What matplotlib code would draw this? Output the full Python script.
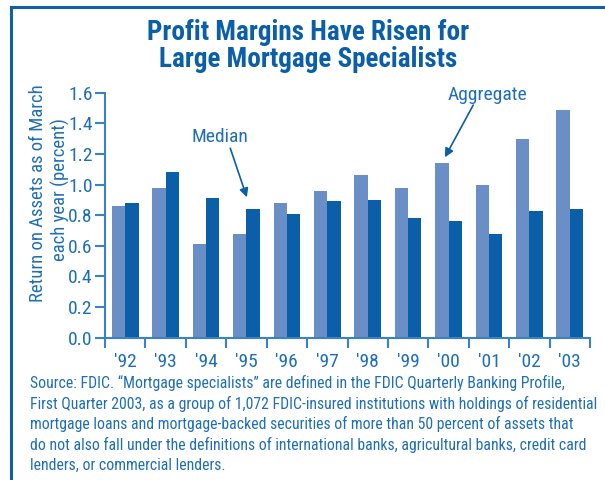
import matplotlib
matplotlib.use("Agg")
import matplotlib.pyplot as plt
import numpy as np
from matplotlib.lines import Line2D

plt.rcParams['font.family'] = ['Roboto Condensed', 'DejaVu Sans']

years = ["'92", "'93", "'94", "'95", "'96", "'97", "'98", "'99", "'00", "'01", "'02", "'03"]
aggregate = [0.86, 0.98, 0.61, 0.68, 0.88, 0.96, 1.06, 0.98, 1.14, 1.00, 1.30, 1.49]
median = [0.88, 1.08, 0.91, 0.84, 0.81, 0.89, 0.90, 0.78, 0.76, 0.68, 0.83, 0.84]
yticks = [0.0, 0.2, 0.4, 0.6, 0.8, 1.0, 1.2, 1.4, 1.6]

light = '#6a8ec6'
dark = '#0a5fa8'
axis_c = '#3a82c4'
text_c = '#1f6fb6'
title_c = '#0a5fa8'

fig = plt.figure(figsize=(6.05, 4.8), dpi=100)
ax = fig.add_axes([105/605, 1-337.7/480, 485/605, 245/480])

x = np.arange(len(years))
w = 0.33
ax.bar(x - w/2, aggregate, width=w, color=light, linewidth=0)
ax.bar(x + w/2, median, width=w, color=dark, linewidth=0)

ax.set_xlim(-0.5, 11.5)
ax.set_ylim(0, 1.6)
ax.set_yticks(yticks)
ax.set_yticklabels([f"{v:.1f}" for v in yticks])
ax.set_xticks(np.arange(-0.5, 12, 1))
ax.set_xticklabels([])
ax.set_xticks(x, minor=True)
ax.set_xticklabels(years, minor=True)
ax.tick_params(axis='x', which='minor', length=0, pad=11, labelsize=14, labelcolor=text_c)
ax.tick_params(axis='x', which='major', length=7, width=1.5, color=axis_c, direction='out')
ax.tick_params(axis='y', length=7, width=1.5, color=axis_c, labelsize=14, labelcolor=text_c, pad=2)
for s in ['top', 'right']:
    ax.spines[s].set_visible(False)
for s in ['left', 'bottom']:
    ax.spines[s].set_color(axis_c)
    ax.spines[s].set_linewidth(1.5)

fig.text(38/605, 1-193/480, "Return on Assets as of March", rotation=90, ha='center', va='center',
         fontsize=13.5, color=text_c)
fig.text(60/605, 1-190/480, "each year (percent)", rotation=90, ha='center', va='center',
         fontsize=13.5, color=text_c)

fig.text(308/605, 1-46/480, "Profit Margins Have Risen for\nLarge Mortgage Specialists", ha='center', va='center',
         fontsize=19.5, fontweight='bold', color=title_c, linespacing=1.0)

ax.text(2.35, 1.31, "Median", ha='center', va='center', fontsize=14, color=text_c)
ax.annotate("", xy=(3.01, 0.917), xytext=(2.6, 1.237),
            arrowprops=dict(arrowstyle='-|>', color=dark, lw=1.2, mutation_scale=13, shrinkA=0, shrinkB=0))
ax.text(8.96, 1.585, "Aggregate", ha='center', va='center', fontsize=14, color=text_c)
ax.annotate("", xy=(7.91, 1.178), xytext=(8.61, 1.519),
            arrowprops=dict(arrowstyle='-|>', color=dark, lw=1.2, mutation_scale=13, shrinkA=0, shrinkB=0))

source = ("Source: FDIC. \u201cMortgage specialists\u201d are defined in the FDIC Quarterly Banking Profile,\n"
          "First Quarter 2003, as a group of 1,072 FDIC-insured institutions with holdings of residential\n"
          "mortgage loans and mortgage-backed securities of more than 50 percent of assets that\n"
          "do not also fall under the definitions of international banks, agricultural banks, credit card\n"
          "lenders, or commercial lenders.")
fig.text(30/605, 1-375/480, source, ha='left', va='top', fontsize=11.3, color=text_c, linespacing=1.36)

frame_c = '#1060a8'
fig.add_artist(Line2D([11/605, 11/605], [0, 1-7/480], transform=fig.transFigure, color=frame_c, lw=2.2))
fig.add_artist(Line2D([11/605, 1], [1-7/480, 1-7/480], transform=fig.transFigure, color=frame_c, lw=2.2))

fig.savefig("out.png", dpi=100)
